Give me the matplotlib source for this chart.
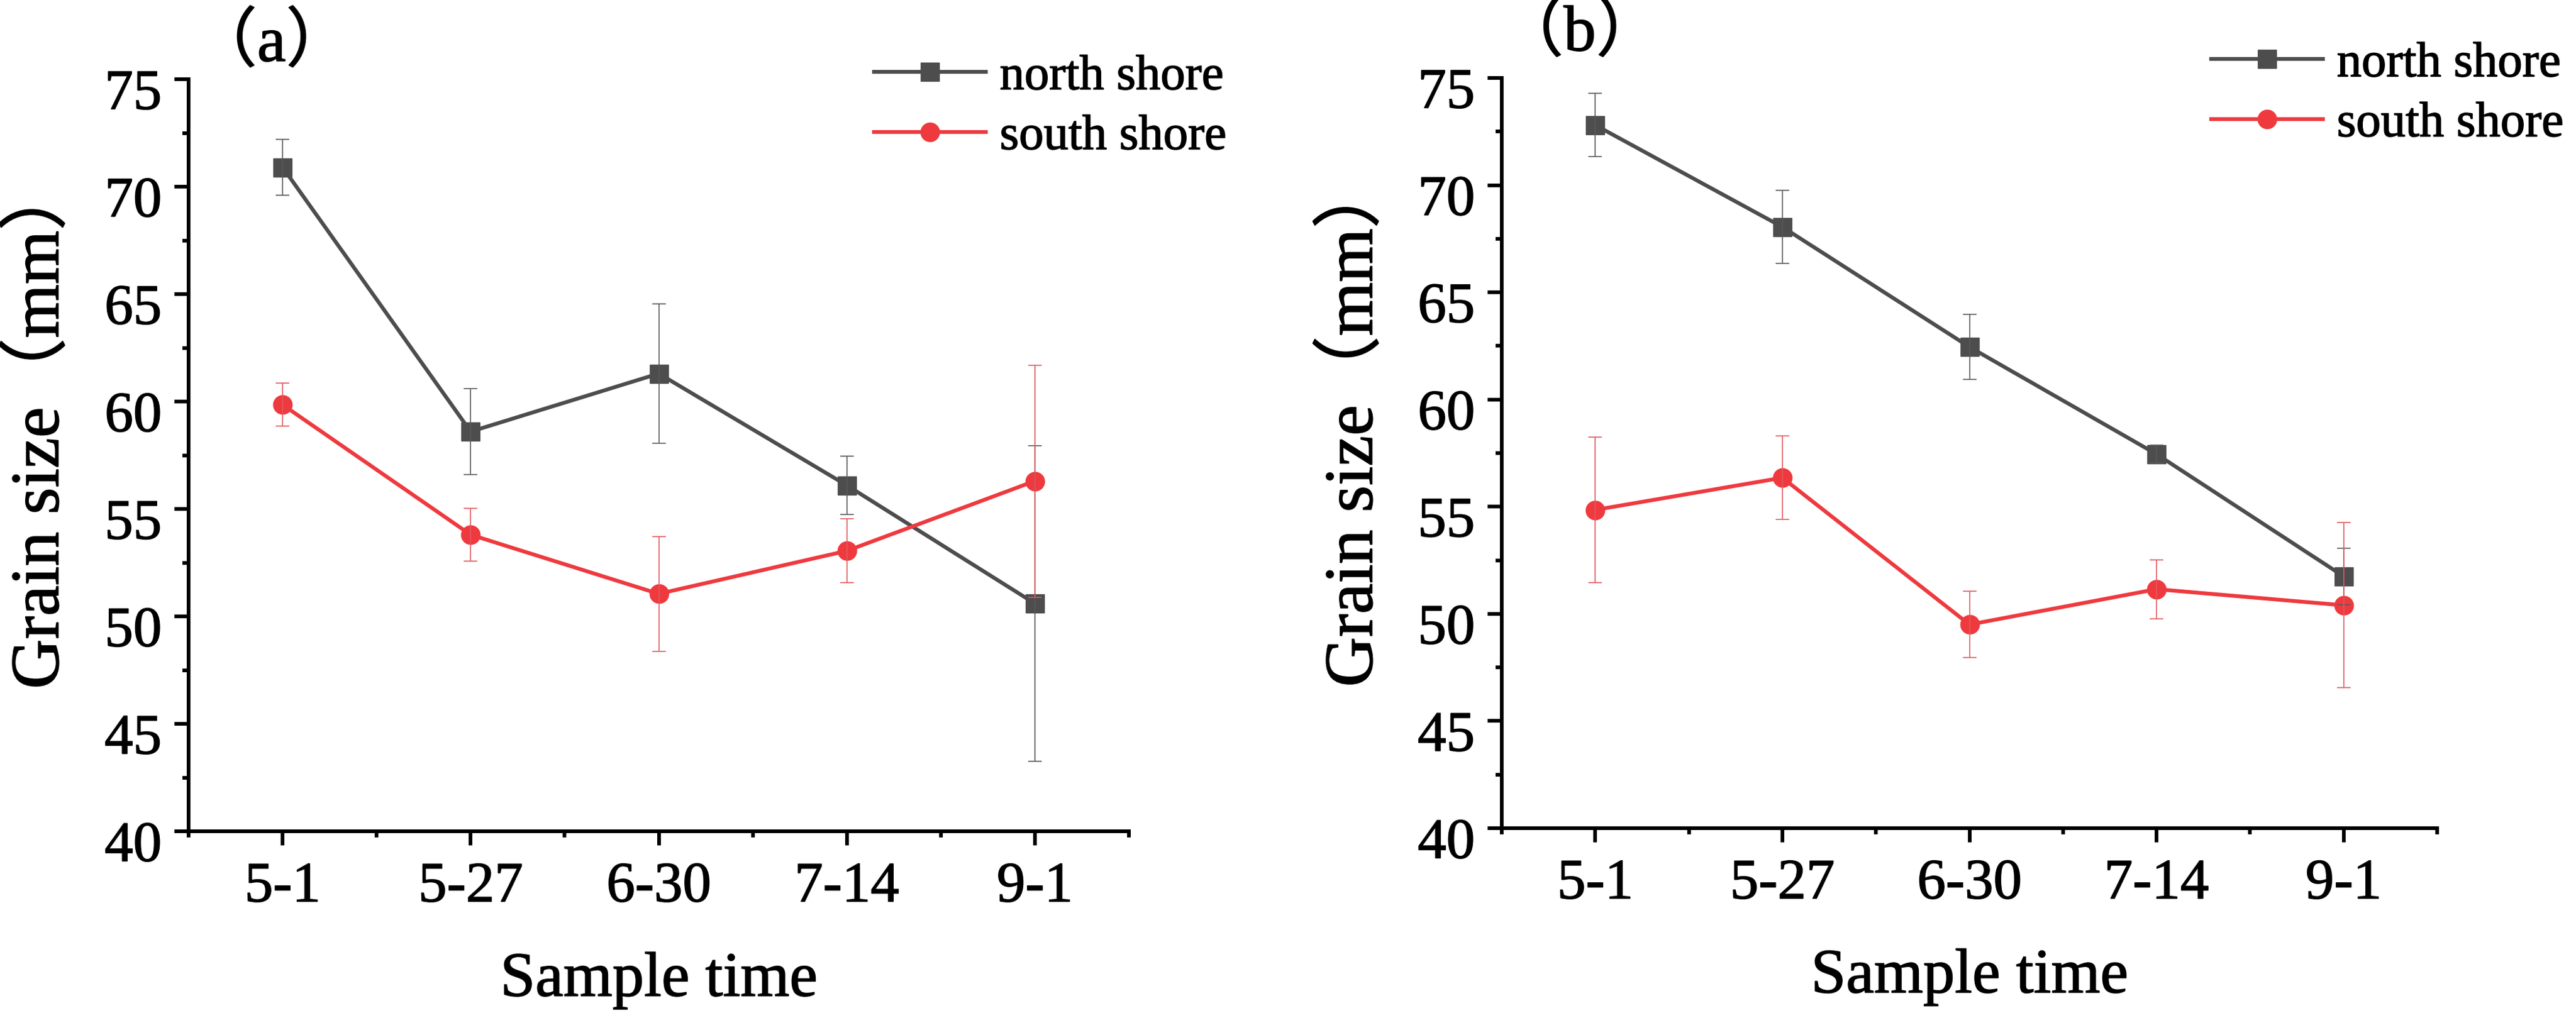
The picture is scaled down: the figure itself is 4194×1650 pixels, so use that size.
import matplotlib
matplotlib.use("Agg")
import matplotlib.pyplot as plt
import matplotlib.patheffects as pe
from matplotlib.ticker import FixedLocator, MultipleLocator
from matplotlib.transforms import ScaledTranslation

SERIF = 'Liberation Serif'
MIXED = ['Liberation Serif', 'Noto Sans CJK SC']
plt.rcParams['font.family'] = 'serif'
plt.rcParams['font.serif'] = [SERIF]

W, H, DPI = 4194, 1650, 100

# ---- data ----
dates = ['5-1', '5-27', '6-30', '7-14', '9-1']
a_north = [70.9, 58.6, 61.3, 56.1, 50.6]
a_north_err = [1.3, 2.0, 3.25, 1.37, 7.35]
a_south = [59.85, 53.8, 51.05, 53.05, 56.3]
a_south_err = [1.0, 1.22, 2.67, 1.48, 5.4]
b_north = [72.8, 68.05, 62.45, 57.45, 51.75]
b_north_err = [1.48, 1.7, 1.52, 0.42, 1.32]
b_south = [54.85, 56.35, 49.5, 51.15, 50.4]
b_south_err = [3.4, 1.95, 1.55, 1.38, 3.85]

GRAY, RED = '#4d4d4d', '#ee3a3f'
GRAY_E, RED_E = '#5a5a5a', '#e2595f'
HEAVY = [pe.withStroke(linewidth=1.1, foreground='black')]

fig = plt.figure(figsize=(W / DPI, H / DPI), dpi=DPI)


def px_axes(l, t, r, b):
    return fig.add_axes([l / W, 1 - b / H, (r - l) / W, (b - t) / H])


def panel(ax, north, n_err, south, s_err, tag, tag_xy, leg_xy):
    x = list(range(len(dates)))
    ax.plot(x, north, '-s', color=GRAY, lw=4.5, ms=21, label='north shore', zorder=3)
    ax.plot(x, south, '-o', color=RED, lw=4.5, ms=22, label='south shore', zorder=3)
    ax.errorbar(x, north, yerr=n_err, fmt='none', ecolor=GRAY_E, elinewidth=1.2,
                capsize=8, capthick=1.2, zorder=4)
    ax.errorbar(x, south, yerr=s_err, fmt='none', ecolor=RED_E, elinewidth=1.2,
                capsize=8, capthick=1.2, zorder=4)

    ax.set_xlim(-0.5, 4.5)
    ax.set_ylim(40, 75)
    ax.set_xticks(x)
    ax.set_xticklabels(dates, family=SERIF, fontsize=67)
    ax.xaxis.set_minor_locator(FixedLocator([i - 0.5 for i in range(6)]))
    ax.set_yticks(range(40, 76, 5))
    ax.set_yticklabels([str(v) for v in range(40, 76, 5)], family=SERIF, fontsize=67)
    ax.yaxis.set_minor_locator(MultipleLocator(2.5))
    for s in ('top', 'right'):
        ax.spines[s].set_visible(False)
    for s in ('left', 'bottom'):
        ax.spines[s].set_linewidth(4.3)
    ax.tick_params(which='major', length=16.5, width=4.3, direction='out')
    ax.tick_params(which='minor', length=7, width=4.3, direction='out')
    ax.tick_params(axis='x', which='major', pad=19)
    ax.tick_params(axis='y', which='major', pad=15)
    off = ScaledTranslation(0, -16 / DPI, fig.dpi_scale_trans)
    for lab in ax.get_yticklabels():
        lab.set_transform(lab.get_transform() + off)
        lab.set_path_effects(HEAVY)
    for lab in ax.get_xticklabels():
        lab.set_path_effects(HEAVY)

    ax.set_xlabel('Sample time', fontsize=74, family=SERIF, path_effects=HEAVY)
    ax.xaxis.set_label_coords(0.5, -0.16)
    ax.xaxis.label.set_va('top')
    ax.set_ylabel('Grain size（mm）', fontsize=81, family=MIXED, path_effects=HEAVY)
    ax.yaxis.set_label_coords(-0.123, 0.54)

    fig.text(tag_xy[0] / W, 1 - tag_xy[1] / H, tag, fontsize=76, family=MIXED,
             ha='center', va='center', path_effects=HEAVY)

    leg = ax.legend(loc='upper left', bbox_to_anchor=(leg_xy[0] / W, 1 - leg_xy[1] / H),
                    bbox_transform=fig.transFigure, frameon=False,
                    prop={'family': SERIF, 'size': 58},
                    handlelength=2.26, handletextpad=0.28, labelspacing=0.3,
                    borderpad=0, borderaxespad=0, numpoints=1)
    for t in leg.get_texts():
        t.set_path_effects(HEAVY)


ax1 = px_axes(307, 129, 1838, 1354)
panel(ax1, a_north, a_north_err, a_south, a_south_err, '（a）', (442, 72), (1423, 89))

ax2 = px_axes(2445, 127, 3968, 1349)
panel(ax2, b_north, b_north_err, b_south, b_south_err, '（b）', (2572, 55), (3600, 68))

fig.savefig('out.png', dpi=DPI)
